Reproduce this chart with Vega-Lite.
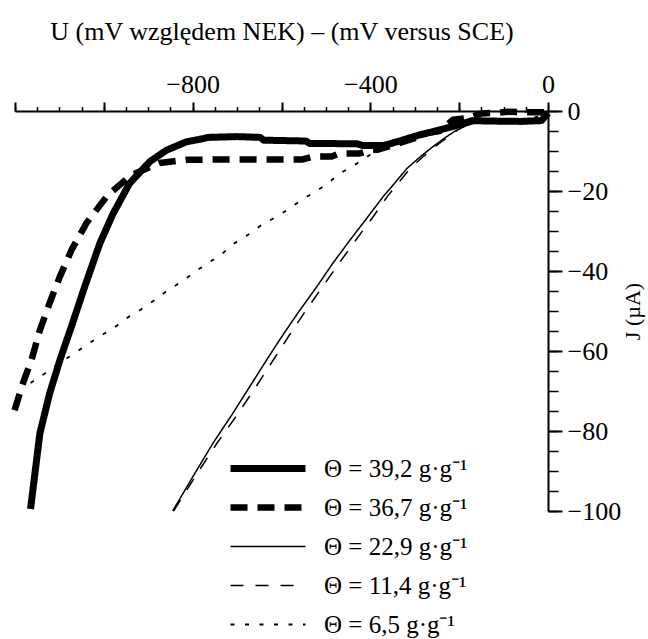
{
  "$schema": "https://vega.github.io/schema/vega-lite/v6.json",
  "width": 533,
  "height": 400,
  "autosize": {"type": "none"},
  "padding": {"left": 15, "top": 111, "right": 100, "bottom": 128},
  "background": "white",
  "config": {"view": {"stroke": null}, "font": "Liberation Serif"},
  "data": {"values": [
    {"theta":39.2,"U":-1165,"J":-99.5},{"theta":39.2,"U":-1144,"J":-80.6},{"theta":39.2,"U":-1122,"J":-70.6},{"theta":39.2,"U":-1099,"J":-62.3},{"theta":39.2,"U":-1073,"J":-53.9},{"theta":39.2,"U":-1043,"J":-43.9},{"theta":39.2,"U":-1009,"J":-33.1},{"theta":39.2,"U":-979,"J":-25.6},{"theta":39.2,"U":-942,"J":-18.1},{"theta":39.2,"U":-897,"J":-12.7},{"theta":39.2,"U":-859,"J":-9.8},{"theta":39.2,"U":-814,"J":-7.7},{"theta":39.2,"U":-785,"J":-7.1},{"theta":39.2,"U":-765,"J":-6.6},{"theta":39.2,"U":-700,"J":-6.4},{"theta":39.2,"U":-648,"J":-6.6},{"theta":39.2,"U":-640,"J":-7.3},{"theta":39.2,"U":-545,"J":-7.5},{"theta":39.2,"U":-537,"J":-8.1},{"theta":39.2,"U":-430,"J":-8.2},{"theta":39.2,"U":-418,"J":-8.6},{"theta":39.2,"U":-370,"J":-8.6},{"theta":39.2,"U":-340,"J":-7.7},{"theta":39.2,"U":-290,"J":-6.0},{"theta":39.2,"U":-260,"J":-5.2},{"theta":39.2,"U":-206,"J":-3.6},{"theta":39.2,"U":-170,"J":-2.4},{"theta":39.2,"U":-140,"J":-2.5},{"theta":39.2,"U":-60,"J":-2.6},{"theta":39.2,"U":-15,"J":-2.4},{"theta":39.2,"U":-5,"J":-1.2},{"theta":39.2,"U":0,"J":-0.5},
    {"theta":36.7,"U":-1201,"J":-74.8},{"theta":36.7,"U":-1182,"J":-68},{"theta":36.7,"U":-1163,"J":-62.3},{"theta":36.7,"U":-1144,"J":-54.8},{"theta":36.7,"U":-1122,"J":-48},{"theta":36.7,"U":-1099,"J":-41.4},{"theta":36.7,"U":-1073,"J":-34.8},{"theta":36.7,"U":-1039,"J":-28},{"theta":36.7,"U":-991,"J":-21},{"theta":36.7,"U":-938,"J":-16},{"theta":36.7,"U":-874,"J":-13},{"theta":36.7,"U":-814,"J":-12.2},{"theta":36.7,"U":-700,"J":-12.1},{"theta":36.7,"U":-552,"J":-12.1},{"theta":36.7,"U":-530,"J":-11.4},{"theta":36.7,"U":-487,"J":-11.4},{"theta":36.7,"U":-470,"J":-10.6},{"theta":36.7,"U":-424,"J":-10.6},{"theta":36.7,"U":-400,"J":-9.8},{"theta":36.7,"U":-385,"J":-9.7},{"theta":36.7,"U":-340,"J":-8.2},{"theta":36.7,"U":-300,"J":-6.8},{"theta":36.7,"U":-273,"J":-5.5},{"theta":36.7,"U":-244,"J":-5.0},{"theta":36.7,"U":-214,"J":-2.2},{"theta":36.7,"U":-183,"J":-1.8},{"theta":36.7,"U":-150,"J":-0.6},{"theta":36.7,"U":-125,"J":-0.5},{"theta":36.7,"U":-90,"J":-0.2},{"theta":36.7,"U":-60,"J":-0.3},{"theta":36.7,"U":0,"J":-0.3},
    {"theta":22.9,"U":-845,"J":-100},{"theta":22.9,"U":-800,"J":-91.5},{"theta":22.9,"U":-754,"J":-83},{"theta":22.9,"U":-712,"J":-76},{"theta":22.9,"U":-672,"J":-69},{"theta":22.9,"U":-635,"J":-62.5},{"theta":22.9,"U":-597,"J":-56},{"theta":22.9,"U":-560,"J":-50},{"theta":22.9,"U":-521,"J":-44},{"theta":22.9,"U":-484,"J":-38},{"theta":22.9,"U":-446,"J":-32.3},{"theta":22.9,"U":-408,"J":-26.8},{"theta":22.9,"U":-371,"J":-21.4},{"theta":22.9,"U":-345,"J":-18},{"theta":22.9,"U":-317,"J":-14.3},{"theta":22.9,"U":-288,"J":-11.5},{"theta":22.9,"U":-259,"J":-8.9},{"theta":22.9,"U":-232,"J":-6.7},{"theta":22.9,"U":-206,"J":-4.8},{"theta":22.9,"U":-180,"J":-3.5},{"theta":22.9,"U":-161,"J":-2.9},{"theta":22.9,"U":-130,"J":-3.0},{"theta":22.9,"U":-80,"J":-3.0},{"theta":22.9,"U":-30,"J":-2.9},{"theta":22.9,"U":-10,"J":-2.5},{"theta":22.9,"U":0,"J":-1},
    {"theta":11.4,"U":-843,"J":-100},{"theta":11.4,"U":-795,"J":-91.5},{"theta":11.4,"U":-745,"J":-83},{"theta":11.4,"U":-700,"J":-76},{"theta":11.4,"U":-658,"J":-69},{"theta":11.4,"U":-620,"J":-62.5},{"theta":11.4,"U":-582,"J":-56},{"theta":11.4,"U":-546,"J":-50},{"theta":11.4,"U":-508,"J":-44},{"theta":11.4,"U":-470,"J":-38},{"theta":11.4,"U":-433,"J":-32.3},{"theta":11.4,"U":-396,"J":-26.8},{"theta":11.4,"U":-362,"J":-21.4},{"theta":11.4,"U":-337,"J":-18},{"theta":11.4,"U":-310,"J":-14.3},{"theta":11.4,"U":-282,"J":-11.5},{"theta":11.4,"U":-254,"J":-8.9},{"theta":11.4,"U":-228,"J":-6.7},{"theta":11.4,"U":-203,"J":-4.7},{"theta":11.4,"U":-180,"J":-3.0},{"theta":11.4,"U":-165,"J":-1.8},{"theta":11.4,"U":-150,"J":-0.6},{"theta":11.4,"U":-100,"J":-0.3},{"theta":11.4,"U":-40,"J":-0.2},{"theta":11.4,"U":0,"J":0},
    {"theta":6.5,"U":-1165,"J":-68},{"theta":6.5,"U":-1133,"J":-65.6},{"theta":6.5,"U":-1100,"J":-63},{"theta":6.5,"U":-1077,"J":-61.4},{"theta":6.5,"U":-1043,"J":-58.8},{"theta":6.5,"U":-1009,"J":-56.3},{"theta":6.5,"U":-976,"J":-54.1},{"theta":6.5,"U":-949,"J":-51.8},{"theta":6.5,"U":-919,"J":-49.8},{"theta":6.5,"U":-886,"J":-47.3},{"theta":6.5,"U":-856,"J":-44.8},{"theta":6.5,"U":-825,"J":-42.7},{"theta":6.5,"U":-795,"J":-40.2},{"theta":6.5,"U":-765,"J":-38},{"theta":6.5,"U":-735,"J":-35.8},{"theta":6.5,"U":-705,"J":-33},{"theta":6.5,"U":-676,"J":-31},{"theta":6.5,"U":-645,"J":-28.5},{"theta":6.5,"U":-611,"J":-26.4},{"theta":6.5,"U":-581,"J":-24.3},{"theta":6.5,"U":-552,"J":-22},{"theta":6.5,"U":-518,"J":-19.8},{"theta":6.5,"U":-492,"J":-17.7},{"theta":6.5,"U":-462,"J":-15.2},{"theta":6.5,"U":-424,"J":-12.7},{"theta":6.5,"U":-395,"J":-10.5},{"theta":6.5,"U":-370,"J":-9},{"theta":6.5,"U":-340,"J":-7.8},{"theta":6.5,"U":-290,"J":-6},{"theta":6.5,"U":-250,"J":-4.8},{"theta":6.5,"U":-200,"J":-3},{"theta":6.5,"U":-150,"J":-2.5},{"theta":6.5,"U":-80,"J":-2.5},{"theta":6.5,"U":0,"J":-1}
  ]},
  "layer": [
    {
      "mark": {"type": "line", "color": "black", "clip": false, "strokeJoin": "round"},
      "encoding": {
        "x": {"field": "U", "type": "quantitative",
          "scale": {"domain": [-1200, 0], "nice": false, "zero": false},
          "axis": {"orient": "top", "values": [-1200,-1000,-800,-600,-400,-200,0],
            "tickSize": 9, "tickWidth": 2, "tickColor": "black",
            "domainColor": "black", "domainWidth": 2, "grid": false,
            "labelExpr": "datum.value % 400 === 0 && datum.value > -1200 ? datum.label : ''",
            "labelFont": "Liberation Serif", "labelFontSize": 26, "labelColor": "black",
            "labelPadding": 5, "labelFlush": false, "labelOverlap": false,
            "title": "U (mV względem NEK) – (mV versus SCE)",
            "titleFont": "Liberation Serif", "titleFontSize": 26, "titleFontWeight": "normal",
            "titleColor": "black", "titlePadding": 27}},
        "y": {"field": "J", "type": "quantitative",
          "scale": {"domain": [-100, 0], "nice": false, "zero": false},
          "axis": {"orient": "right", "values": [-100,-80,-60,-40,-20,0],
            "tickSize": 14, "tickWidth": 2, "tickColor": "black",
            "domainColor": "black", "domainWidth": 2, "grid": false,
            "labelFont": "Liberation Serif", "labelFontSize": 26, "labelColor": "black",
            "labelPadding": 5, "labelAlign": "left", "labelBaseline": "middle",
            "labelFlush": false, "labelOverlap": false,
            "title": "J (µA)", "titleAngle": 270, "titleBaseline": "top",
            "titleFont": "Liberation Serif", "titleFontSize": 22, "titleFontWeight": "normal",
            "titleColor": "black", "titlePadding": 2}},
        "strokeDash": {"field": "theta", "type": "nominal",
          "scale": {"domain": [39.2, 36.7, 22.9, 11.4, 6.5],
            "range": [[1, 0], [17, 10], [1, 0], [13, 12], [4, 10.5]]},
          "legend": {"title": null, "orient": "none", "legendX": 212, "legendY": 345,
            "values": [39.2, 36.7, 22.9, 11.4, 6.5], "clipHeight": 25,
            "padding": 0, "symbolType": "stroke", "symbolSize": 5625, "symbolStrokeColor": "black",
            "labelFont": "Liberation Serif", "labelFontSize": 25, "labelColor": "black",
            "labelOffset": 15, "rowPadding": 13,
            "labelExpr": "'Θ = ' + replace(toString(datum.value), '.', ',') + ' g·g⁻¹'"}},
        "strokeWidth": {"field": "theta", "type": "quantitative",
          "scale": {"domain": [39.2, 36.7, 22.9, 11.4, 6.5], "range": [7, 6.5, 1.5, 1.5, 1.8]},
          "legend": {"title": null, "orient": "none", "legendX": 212, "legendY": 345,
            "values": [39.2, 36.7, 22.9, 11.4, 6.5], "clipHeight": 25,
            "padding": 0, "symbolType": "stroke", "symbolSize": 5625, "symbolStrokeColor": "black",
            "labelFont": "Liberation Serif", "labelFontSize": 25, "labelColor": "black",
            "labelOffset": 15, "rowPadding": 13,
            "labelExpr": "'Θ = ' + replace(toString(datum.value), '.', ',') + ' g·g⁻¹'"}}
      }
    },
    {
      "mark": {"type": "point", "opacity": 0},
      "encoding": {
        "x": {"field": "U", "type": "quantitative",
          "scale": {"domain": [-1200, 0], "nice": false, "zero": false},
          "axis": {"orient": "top", "values": [-1200,-1150,-1100,-1050,-1000,-950,-900,-850,-800,-750,-700,-650,-600,-550,-500,-450,-400,-350,-300,-250,-200,-150,-100,-50,0],
            "tickSize": 4.5, "tickWidth": 1.5, "tickColor": "black",
            "domain": false, "labels": false, "grid": false, "title": null}},
        "y": {"field": "J", "type": "quantitative",
          "scale": {"domain": [-100, 0], "nice": false, "zero": false},
          "axis": {"orient": "right", "values": [-100,-95,-90,-85,-80,-75,-70,-65,-60,-55,-50,-45,-40,-35,-30,-25,-20,-15,-10,-5,0],
            "tickSize": 10, "tickWidth": 1.5, "tickColor": "black",
            "domain": false, "labels": false, "grid": false, "title": null}}
      }
    }
  ],
  "resolve": {"axis": {"x": "independent", "y": "independent"}}
}
